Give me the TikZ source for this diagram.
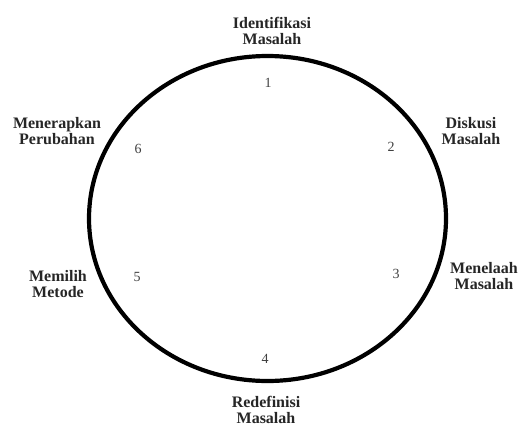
\documentclass[tikz,border=0pt]{standalone}
\usepackage{fontspec}
\setmainfont{Liberation Serif}
\definecolor{labelc}{HTML}{262626}
\definecolor{numc}{HTML}{404040}
\tikzset{
  lbl/.style={font=\fontsize{16}{16.5}\selectfont\bfseries, text=labelc, align=center, inner sep=0pt},
  num/.style={font=\fontsize{14}{15}\selectfont, text=numc, inner sep=0pt}
}
\begin{document}
\begin{tikzpicture}[x=1pt,y=-1pt]
\useasboundingbox (0,0) rectangle (519,426);
\fill[white] (0,0) rectangle (519,426);
\draw[line width=4.2pt] (267.5,218.5) ellipse [x radius=178.5, y radius=162.5];
\node[lbl] (l1) at (272,31) {Identifikasi\\Masalah};
\node[lbl] (l2) at (471,131) {Diskusi\\Masalah};
\node[lbl] (l3) at (484,276) {Menelaah\\Masalah};
\node[lbl] (l4) at (266,410) {Redefinisi\\Masalah};
\node[lbl] (l5) at (58,284) {Memilih\\Metode};
\node[lbl] (l6) at (57,131) {Menerapkan\\Perubahan};
\node[num] (n1) at (268,83) {1};
\node[num] (n2) at (391,147) {2};
\node[num] (n3) at (396,274) {3};
\node[num] (n4) at (265,359) {4};
\node[num] (n5) at (137,277) {5};
\node[num] (n6) at (138,149) {6};
\end{tikzpicture}
\end{document}
